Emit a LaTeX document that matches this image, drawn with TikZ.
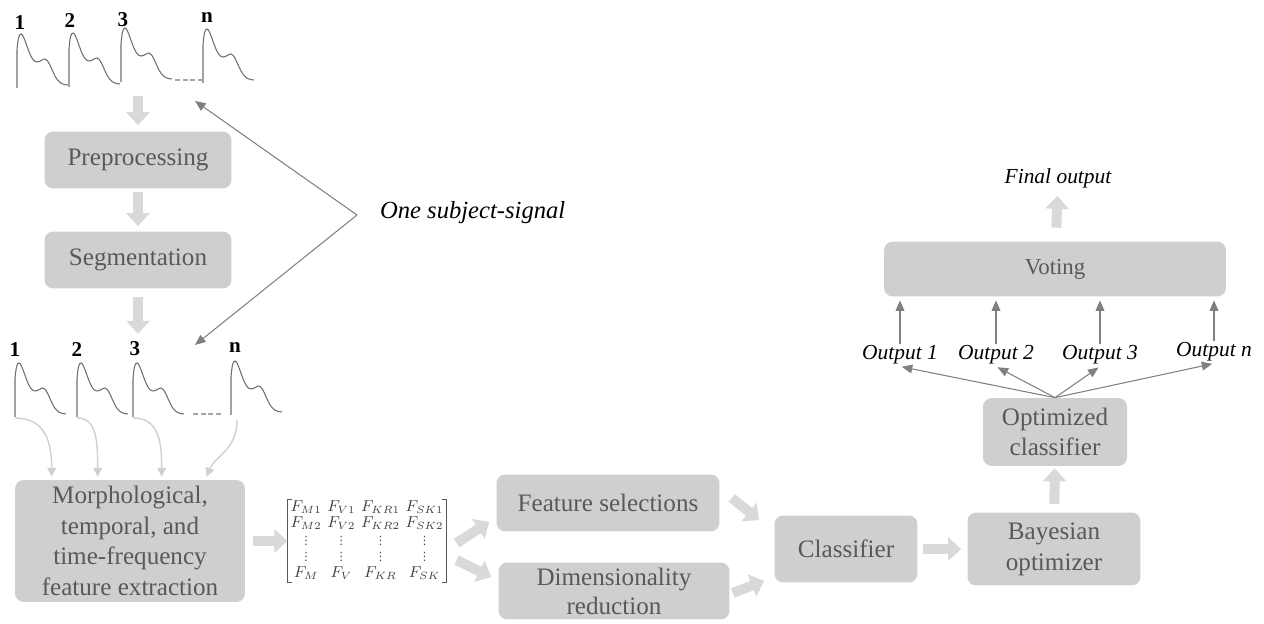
\documentclass[tikz,border=0pt]{standalone}
\usepackage{fontspec}
\setmainfont{Liberation Serif}
\newfontfamily\symfont{DejaVu Sans}
\usepackage{amsmath}
\usepackage{tikz}
\usetikzlibrary{arrows.meta,calc}
\definecolor{boxgray}{HTML}{D0CECE}
\definecolor{txtgray}{HTML}{595959}
\definecolor{arrgray}{HTML}{D9D9D9}
\definecolor{lingray}{HTML}{808080}
\definecolor{softgray}{HTML}{D0D0D0}
\definecolor{siggray}{HTML}{6E6E6E}
\definecolor{dotgray}{HTML}{A6A6A6}
\newcommand{\pulse}[1]{\draw[sig,shift={#1}] (0,0) -- (0,-38) .. controls (1,-50) and (2,-54) .. (4,-54) .. controls (7,-54) and (11,-36) .. (15,-30) .. controls (17,-27) and (18,-26) .. (20,-26) .. controls (23,-26) and (26,-29) .. (28,-29) .. controls (31,-29) and (34,-20) .. (38,-12) .. controls (41,-6) and (45,-3) .. (51,-3);}
\newcommand{\vdt}{\mbox{\symfont\fontsize{6.5}{7}\selectfont ⋮}}

\begin{document}
\begin{tikzpicture}[x=0.02cm,y=-0.02cm]
\tikzstyle{box}=[fill=boxgray,text=txtgray,rounded corners=5pt,align=center,inner sep=1pt,font=\fontsize{14.3}{17.5}\selectfont];
\tikzstyle{num}=[font=\fontsize{12}{14}\selectfont\bfseries,anchor=base,inner sep=0pt];
\tikzstyle{lab}=[font=\fontsize{12.2}{14}\selectfont\itshape,inner sep=1pt];
\tikzstyle{sig}=[draw=siggray,line width=0.6pt];
\tikzstyle{dots}=[draw=dotgray,line width=1.2pt,dash pattern=on 2.8pt off 1.6pt];
\tikzstyle{brk}=[draw=black!65,line width=0.8pt];
\tikzstyle{bigarr}=[draw=arrgray,line width=0.2cm,-{Triangle[width=0.46cm,length=0.26cm]}];
\tikzstyle{thinarr}=[draw=lingray,line width=0.6pt,-{Triangle[width=5pt,length=6pt]}];
\tikzstyle{softarr}=[draw=softgray,line width=0.8pt,-{Triangle[width=5pt,length=5pt]}];

\useasboundingbox (0,0) rectangle (1264,624);

\node[num] (t1) at (20,30) {1};
\node[num] (t2) at (70,28) {2};
\node[num] (t3) at (123,27) {3};
\node[num] (tn) at (207,23) {n};
\pulse{(17,88)}
\pulse{(69,87)}
\pulse{(121,82)}
\pulse{(203,83)}
\draw[dots] (175,80) -- (203,80);

\node[box,minimum width=3.74cm,minimum height=1.14cm] (pre) at (138,160) {Preprocessing};
\node[box,minimum width=3.74cm,minimum height=1.14cm] (seg) at (138,260) {Segmentation};

\node[num] (s1) at (15,357) {1};
\node[num] (s2) at (77,357) {2};
\node[num] (s3) at (135,356) {3};
\node[num] (sn) at (235,353) {n};
\pulse{(15,417)}
\pulse{(77,417)}
\pulse{(133,417)}
\pulse{(231,415)}
\draw[dots] (193,414) -- (221,414);

\node[lab,anchor=west,font=\fontsize{14}{16}\selectfont\itshape] (subj) at (378,213) {One subject-signal};
\coordinate (apex) at ($(subj.west)+(-21,2)$);
\coordinate (upend) at (195,101);
\coordinate (dnend) at (195,345);
\draw[thinarr] (apex) -- (upend);
\draw[thinarr] (apex) -- (dnend);

\coordinate (sigtop) at ($(pre.north)+(0,-35)$);
\coordinate (sigbot) at ($(seg.south)+(0,45)$);
\draw[bigarr,shorten >=0.12cm] (sigtop) -- (pre.north);
\draw[bigarr,shorten <=0.06cm,shorten >=0.1cm] (pre) -- (seg);
\draw[bigarr,shorten <=0.16cm] (seg.south) -- (sigbot);

\node[box,minimum width=4.6cm,minimum height=2.44cm] (fext) at (130,541) {Morphological,\\temporal, and\\time-frequency\\feature extraction};
\coordinate (b1) at (15,418);
\coordinate (b2) at (77,418);
\coordinate (b3) at (133,418);
\coordinate (bn) at (237,420);
\coordinate (c1) at ($(fext.north west)+(37,-3)$);
\coordinate (c2) at ($(fext.north west)+(83,-3)$);
\coordinate (c3) at ($(fext.north west)+(147,-3)$);
\coordinate (c4) at ($(fext.north west)+(192,-3)$);
\draw[softarr] (b1) .. controls +(30,0) and +(0,-35) .. (c1);
\draw[softarr] (b2) .. controls +(20,0) and +(0,-35) .. (c2);
\draw[softarr] (b3) .. controls +(26,0) and +(0,-35) .. (c3);
\draw[softarr] (bn) .. controls +(0,30) and +(8,-20) .. (c4);

\node[inner sep=0pt,text=black!75,minimum width=3.12cm] (mat) at (367,541) {\fontsize{8.6}{9.4}\selectfont\setlength{\arraycolsep}{1.6pt}$\begin{array}{cccc}
F_{M1} & F_{V1} & F_{KR1} & F_{SK1}\\
F_{M2} & F_{V2} & F_{KR2} & F_{SK2}\\
\vdt & \vdt & \vdt & \vdt\\
\vdt & \vdt & \vdt & \vdt\\
F_{M} & F_{V} & F_{KR} & F_{SK}
\end{array}$};
\draw[brk] ($(mat.north west)+(5,0)$) -- (mat.north west) -- (mat.south west) -- ++(5,0);
\draw[brk] ($(mat.north east)+(-5,0)$) -- (mat.north east) -- (mat.south east) -- ++(-5,0);
\draw[bigarr,shorten <=0.16cm] (fext) -- (mat);

\node[box,minimum width=4.46cm,minimum height=1.14cm] (fsel) at (608,503) {Feature selections};
\node[box,minimum width=4.62cm,minimum height=1.14cm,font=\fontsize{14.3}{16.5}\selectfont] (dred) at (614,591) {Dimensionality\\reduction};
\draw[bigarr] ($(mat.east)+(10,2)$) -- ($(fsel.south west)+(-7,-10)$);
\draw[bigarr] ($(mat.east)+(10,19)$) -- ($(dred.west)+(-7,-14)$);

\node[box,minimum width=2.86cm,minimum height=1.34cm] (cls) at (846,549) {Classifier};
\draw[bigarr] ($(fsel.east)+(12,-5)$) -- ($(cls.north west)+(-15,5)$);
\draw[bigarr] ($(dred.east)+(3,2)$) -- ($(cls.south west)+(-10,-2)$);

\node[box,minimum width=3.46cm,minimum height=1.46cm] (bayes) at (1054,549) {Bayesian\\optimizer};
\draw[bigarr,shorten <=0.1cm,shorten >=0.12cm] (cls) -- (bayes);

\node[box,minimum width=2.88cm,minimum height=1.36cm] (opt) at (1055,432) {Optimized\\classifier};
\draw[bigarr,shorten <=0.16cm,shorten >=0.04cm] (bayes) -- (opt);

\node[lab] (out1) at (900,355) {Output 1};
\node[lab] (out2) at (996,355) {Output 2};
\node[lab] (out3) at (1100,355) {Output 3};
\node[lab] (outn) at (1214,352) {Output n};
\foreach \o in {out1,out2,out3,outn}
  \draw[thinarr,shorten >=1pt] (opt.north) -- (\o.south);

\node[box,minimum width=6.84cm,minimum height=1.1cm,font=\fontsize{13}{15}\selectfont] (vote) at (1055,269) {Voting};
\foreach \o in {out1,out2,out3,outn}
  \draw[thinarr,shorten >=2pt] (\o.north) -- (\o.north |- vote.south);

\node[lab] (final) at (1058,178) {Final output};
\draw[bigarr,shorten <=0.27cm,shorten >=0.12cm] (vote) -- (final);
\end{tikzpicture}
\end{document}
